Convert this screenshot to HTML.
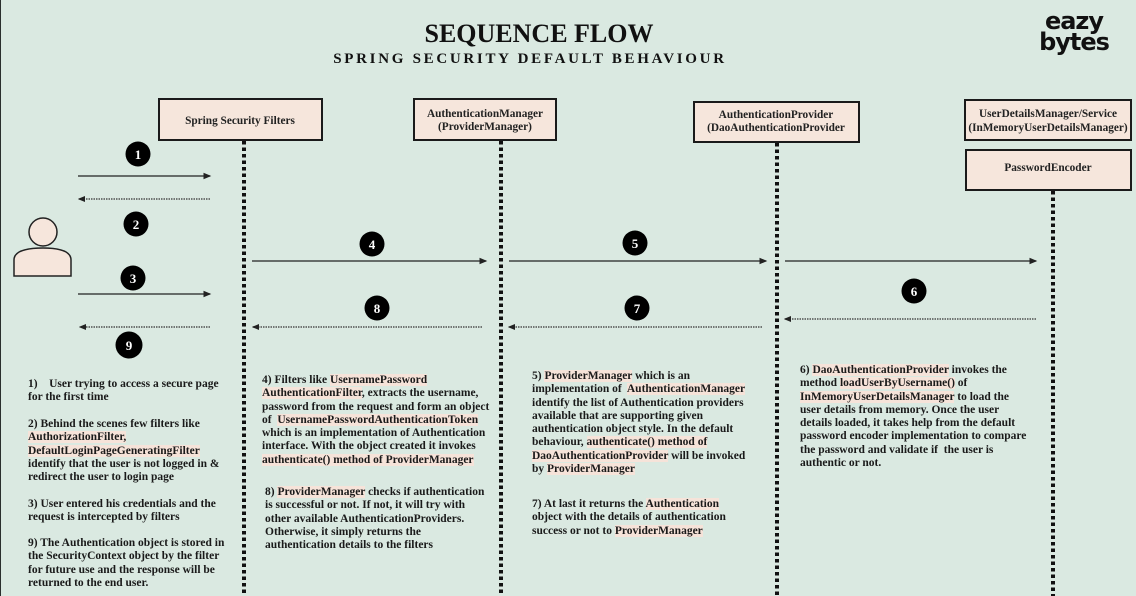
<!DOCTYPE html>
<html><head><meta charset="utf-8"><style>
body{margin:0;width:1136px;height:596px;overflow:hidden;background:#dae9e1;position:relative;font-family:"Liberation Serif",serif;}
.edge{position:absolute;left:0;top:0;width:1px;height:596px;background:#2a2f2d}
.t{position:absolute;font-weight:bold;font-size:11.5px;line-height:13.3px;color:#1a1a1a;white-space:nowrap}
.h{background:#f6e3d9}
</style></head><body>
<div class="edge"></div>
<svg width="1136" height="596" style="position:absolute;left:0;top:0">
<defs>
<marker id="a" markerWidth="6" markerHeight="6" refX="5" refY="3" orient="auto"><path d="M0,0.5 L6,3 L0,5.5z" fill="#222"/></marker>
</defs>
<text x="539" y="42" text-anchor="middle" font-family="Liberation Serif" font-weight="bold" font-size="26" fill="#111">SEQUENCE FLOW</text>
<text x="530" y="63" text-anchor="middle" font-family="Liberation Serif" font-weight="bold" font-size="15" letter-spacing="2.7" fill="#111">SPRING SECURITY DEFAULT BEHAVIOUR</text>
<text x="1074" y="29" text-anchor="middle" font-family="DejaVu Sans" font-weight="bold" font-size="24" fill="#111" letter-spacing="-1">eazy</text>
<text x="1074" y="50" text-anchor="middle" font-family="DejaVu Sans" font-weight="bold" font-size="24" fill="#111" letter-spacing="-1">bytes</text>
<g fill="#f6e6dc" stroke="#1a1a1a" stroke-width="2">
<rect x="159" y="99" width="163" height="41"/>
<rect x="414" y="99" width="142" height="41"/>
<rect x="694" y="102" width="165" height="40"/>
<rect x="965" y="100" width="166" height="40"/>
<rect x="966" y="150" width="165" height="40"/>
</g>
<g font-family="Liberation Serif" font-weight="bold" font-size="11.3" fill="#222" text-anchor="middle">
<text x="240" y="124">Spring Security Filters</text>
<text x="485" y="117">AuthenticationManager</text><text x="485" y="130">(ProviderManager)</text>
<text x="776" y="118">AuthenticationProvider</text><text x="776" y="131">(DaoAuthenticationProvider</text>
<text x="1048" y="117">UserDetailsManager/Service</text><text x="1048" y="131">(InMemoryUserDetailsManager)</text>
<text x="1048" y="171">PasswordEncoder</text>
</g>
<g stroke="#111" stroke-width="4" stroke-dasharray="3.5 3">
<line x1="244" y1="141" x2="244" y2="596"/>
<line x1="501" y1="141" x2="501" y2="596"/>
<line x1="777" y1="143" x2="777" y2="596"/>
<line x1="1053" y1="191" x2="1053" y2="596"/>
</g>
<circle cx="43" cy="232" r="14" fill="#f6e6dc" stroke="#222" stroke-width="1.5"/>
<path d="M14,276 L14,260 Q14,248 43,248 Q71,248 71,260 L71,276 Z" fill="#f6e6dc" stroke="#222" stroke-width="1.5"/>
<g stroke="#222" stroke-width="1.3" fill="none" marker-end="url(#a)">
<line x1="78" y1="176" x2="210" y2="176"/>
<line x1="78" y1="294" x2="210" y2="294"/>
<line x1="252" y1="261" x2="486" y2="261"/>
<line x1="509" y1="261" x2="766" y2="261"/>
<line x1="785" y1="261" x2="1036" y2="261"/>
</g>
<g stroke="#333" stroke-width="1.2" fill="none" stroke-dasharray="1.5 1" marker-end="url(#a)">
<line x1="210" y1="199" x2="79" y2="199"/>
<line x1="210" y1="327" x2="80" y2="327"/>
<line x1="482" y1="327" x2="253" y2="327"/>
<line x1="762" y1="327" x2="509" y2="327"/>
<line x1="1036" y1="319" x2="785" y2="319"/>
</g>
<g fill="#000"><circle cx="138" cy="154" r="12.5"/><circle cx="136" cy="224" r="12.5"/><circle cx="133" cy="278" r="12.5"/><circle cx="129" cy="345" r="13.5"/><circle cx="372" cy="244" r="12.5"/><circle cx="377" cy="308" r="12.5"/><circle cx="635" cy="243" r="12.5"/><circle cx="637" cy="308" r="12.5"/><circle cx="914" cy="291" r="12.5"/></g>
<g fill="#fff" font-family="Liberation Serif" font-weight="bold" font-size="13" text-anchor="middle">
<text x="138" y="159">1</text><text x="136" y="229">2</text><text x="133" y="283">3</text><text x="129" y="350">9</text><text x="372" y="249">4</text><text x="377" y="313">8</text><text x="635" y="248">5</text><text x="637" y="313">7</text><text x="914" y="296">6</text>
</g>
</svg>
<div class="t" style="left:28px;top:378px">1)&nbsp;&nbsp;&nbsp; User trying to access a secure page<br>for the first time</div>
<div class="t" style="left:28px;top:418px">2) Behind the scenes few filters like<br><span class="h">AuthorizationFilter,</span><br><span class="h">DefaultLoginPageGeneratingFilter</span><br>identify that the user is not logged in &amp;<br>redirect the user to login page</div>
<div class="t" style="left:28px;top:498px">3) User entered his credentials and the<br>request is intercepted by filters</div>
<div class="t" style="left:28px;top:537px">9) The Authentication object is stored in<br>the SecurityContext object by the filter<br>for future use and the response will be<br>returned to the end user.</div>
<div class="t" style="left:262px;top:374px">4) Filters like <span class="h">UsernamePassword</span><br><span class="h">AuthenticationFilter</span>, extracts the username,<br>password from the request and form an object<br>of&nbsp; <span class="h">UsernamePasswordAuthenticationToken</span><br>which is an implementation of Authentication<br>interface. With the object created it invokes<br><span class="h">authenticate() method of ProviderManager</span></div>
<div class="t" style="left:265px;top:486px">8) <span class="h">ProviderManager</span> checks if authentication<br>is successful or not. If not, it will try with<br>other available AuthenticationProviders.<br>Otherwise, it simply returns the<br>authentication details to the filters</div>
<div class="t" style="left:532px;top:370px">5) <span class="h">ProviderManager</span> which is an<br>implementation of&nbsp; <span class="h">AuthenticationManager</span><br>identify the list of Authentication providers<br>available that are supporting given<br>authentication object style. In the default<br>behaviour, <span class="h">authenticate() method of</span><br><span class="h">DaoAuthenticationProvider</span> will be invoked<br>by <span class="h">ProviderManager</span></div>
<div class="t" style="left:532px;top:498px">7) At last it returns the <span class="h">Authentication</span><br>object with the details of authentication<br>success or not to <span class="h">ProviderManager</span></div>
<div class="t" style="left:800px;top:364px">6) <span class="h">DaoAuthenticationProvider</span> invokes the<br>method <span class="h">loadUserByUsername()</span> of<br><span class="h">InMemoryUserDetailsManager</span> to load the<br>user details from memory. Once the user<br>details loaded, it takes help from the default<br>password encoder implementation to compare<br>the password and validate if&nbsp; the user is<br>authentic or not.</div>
</body></html>
